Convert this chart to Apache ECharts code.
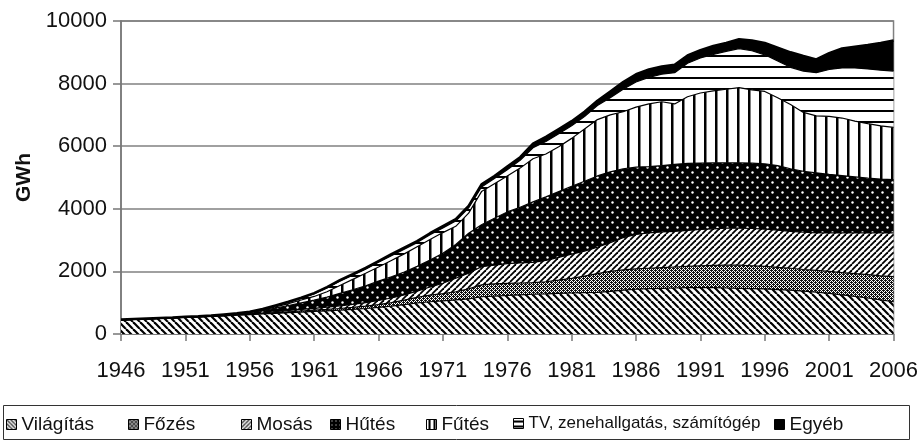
<!DOCTYPE html>
<html lang="hu">
<head>
<meta charset="UTF-8">
<title>Háztartási villamosenergia-felhasználás</title>
<script src="https://cdn.jsdelivr.net/npm/echarts@6/dist/echarts.min.js"></script>
<style>
  html, body { margin: 0; padding: 0; background: #fff; }
  #chart { width: 921px; height: 443px; }
</style>
</head>
<body>
<div id="chart"></div>
<script>
// years on the x axis
const years = ['1946','1947','1948','1949','1950','1951','1952','1953','1954','1955',
  '1956','1957','1958','1959','1960','1961','1962','1963','1964','1965',
  '1966','1967','1968','1969','1970','1971','1972','1973','1974','1975',
  '1976','1977','1978','1979','1980','1981','1982','1983','1984','1985',
  '1986','1987','1988','1989','1990','1991','1992','1993','1994','1995',
  '1996','1997','1998','1999','2000','2001','2002','2003','2004','2005','2006'];

// GWh per use
const vilagitas = [450,470,485,500,515,530,545,560,580,600,
  620,640,660,680,700,720,740,760,785,815,
  850,890,940,990,1030,1060,1090,1120,1190,1210,
  1230,1250,1270,1280,1300,1310,1320,1330,1360,1400,
  1430,1450,1460,1470,1480,1480,1480,1470,1460,1450,
  1440,1420,1400,1370,1340,1300,1250,1200,1150,1090,1030];
const fozes = [0,0,0,0,0,5,5,5,5,10,
  10,15,25,30,35,40,45,55,65,75,
  90,110,140,180,210,230,260,320,380,390,
  390,380,370,390,420,470,530,600,640,650,
  650,650,660,670,680,700,710,730,740,730,
  720,710,700,690,690,700,710,730,750,770,800];
const mosas = [0,0,0,0,0,0,0,5,5,5,
  10,20,30,40,50,60,75,85,95,110,
  130,150,170,200,260,330,430,500,580,600,
  630,640,650,680,730,770,800,840,920,1030,
  1100,1130,1140,1140,1150,1160,1170,1180,1180,1190,
  1190,1190,1180,1190,1200,1230,1270,1300,1330,1370,1400];
const hutes = [0,0,0,0,0,5,5,10,15,25,
  40,70,110,160,210,260,320,400,470,540,
  620,680,730,790,860,960,1080,1280,1340,1500,
  1650,1780,1930,2030,2100,2170,2230,2280,2260,2200,
  2150,2120,2120,2140,2140,2120,2110,2090,2090,2090,
  2090,2060,2000,1950,1920,1870,1830,1790,1750,1720,1700];
const futes = [0,0,0,0,0,0,0,0,5,5,
  10,20,40,60,90,120,170,250,330,400,
  450,520,580,630,660,660,580,640,1060,1100,
  1150,1250,1380,1370,1430,1530,1670,1800,1820,1820,
  1920,2000,2040,1930,2130,2240,2300,2350,2400,2340,
  2310,2170,2050,1880,1820,1850,1840,1780,1740,1700,1670];
const tv = [0,0,0,0,0,0,0,0,5,5,
  10,20,30,40,50,80,120,140,130,130,
  150,150,150,130,150,150,170,170,150,170,
  200,250,350,400,420,400,400,450,550,720,
  800,850,880,1000,1070,1120,1160,1210,1250,1250,
  1170,1170,1190,1320,1380,1500,1600,1700,1750,1780,1800];
const egyeb = [10,10,10,10,10,10,10,10,10,10,
  10,15,20,20,25,25,30,30,35,40,
  40,50,50,50,50,60,60,60,80,80,
  100,100,130,150,150,150,150,150,200,230,
  250,250,250,250,250,250,270,270,300,330,
  380,430,480,480,420,520,620,680,760,870,980];

const names = ['Világítás', 'Főzés', 'Mosás', 'Hűtés', 'Fűtés',
  'TV, zenehallgatás, számítógép', 'Egyéb'];

// black and white fill patterns
function tile(w, h, bg, draw) {
  const c = document.createElement('canvas');
  c.width = w; c.height = h;
  const ctx = c.getContext('2d');
  ctx.fillStyle = bg;
  ctx.fillRect(0, 0, w, h);
  draw(ctx, w, h);
  return { image: c, repeat: 'repeat' };
}
function diag(s, lw, down) {
  return tile(s, s, '#fff', (ctx) => {
    ctx.strokeStyle = '#000';
    ctx.lineWidth = lw;
    for (const k of [-s, 0, s]) {
      ctx.beginPath();
      if (down) { ctx.moveTo(k, 0); ctx.lineTo(k + s, s); }
      else { ctx.moveTo(k, s); ctx.lineTo(k + s, 0); }
      ctx.stroke();
    }
  });
}
const patterns = [
  diag(7, 2.2, true),
  tile(4, 4, '#fff', (ctx) => {
    ctx.fillStyle = '#111';
    ctx.fillRect(0, 0, 1, 1); ctx.fillRect(2, 0, 1, 1); ctx.fillRect(1, 1, 1, 1); ctx.fillRect(3, 1, 1, 1);
    ctx.fillRect(0, 2, 1, 1); ctx.fillRect(2, 2, 1, 1); ctx.fillRect(1, 3, 1, 1); ctx.fillRect(3, 3, 1, 1);
    ctx.fillRect(1, 0, 1, 1); ctx.fillRect(3, 2, 1, 1);
  }),
  diag(6, 1.8, false),
  tile(10, 10, '#000', (ctx) => {
    ctx.fillStyle = '#fff';
    ctx.beginPath(); ctx.arc(2.5, 2.5, 1.2, 0, Math.PI * 2); ctx.fill();
    ctx.beginPath(); ctx.arc(7.5, 7.5, 1.2, 0, Math.PI * 2); ctx.fill();
  }),
  tile(11, 11, '#fff', (ctx) => { ctx.fillStyle = '#000'; ctx.fillRect(0, 0, 2.5, 11); }),
  tile(11, 11, '#fff', (ctx) => { ctx.fillStyle = '#000'; ctx.fillRect(0, 0, 11, 2); }),
  '#000'
];
// small versions for the legend keys
const keyPatterns = [
  diag(4, 1.2, true),
  patterns[1],
  diag(4, 1.2, false),
  tile(4, 4, '#000', (ctx) => { ctx.fillStyle = '#fff'; ctx.fillRect(1, 1, 1, 1); }),
  tile(5, 5, '#fff', (ctx) => { ctx.fillStyle = '#000'; ctx.fillRect(2, 0, 2, 5); }),
  tile(5, 5, '#fff', (ctx) => { ctx.fillStyle = '#000'; ctx.fillRect(0, 2, 5, 2); }),
  '#000'
];
const values = [vilagitas, fozes, mosas, hutes, futes, tv, egyeb];

const chart = echarts.init(document.getElementById('chart'), null, { renderer: 'canvas' });

const series = names.map((name, i) => ({
  name: name,
  type: 'line',
  stack: 'total',
  data: values[i],
  showSymbol: false,
  symbol: 'none',
  lineStyle: { color: '#000', width: i === 6 ? 2.5 : 1.2 },
  itemStyle: { color: patterns[i], borderColor: '#000', borderWidth: 1 },
  areaStyle: { color: patterns[i], opacity: 1 },
  emphasis: { disabled: true }
}));

// one legend per item so each can sit where it does in the picture
const legendX = [6, 128, 241, 330, 426, 513, 774];
const legends = names.map((name, i) => ({
  data: [{ name: name, itemStyle: { color: keyPatterns[i], borderColor: '#000', borderWidth: 1 } }],
  left: legendX[i],
  top: 415,
  padding: 0,
  icon: 'rect',
  itemWidth: 10,
  itemHeight: 10,
  itemGap: 0,
  selectedMode: false,
  textStyle: { fontFamily: 'Liberation Sans', fontSize: i === 5 ? 17 : 19, color: '#111', padding: [0, 0, 0, 0] }
}));

chart.setOption({
  animation: false,
  backgroundColor: '#fff',
  grid: { left: 121, right: 27, top: 21, bottom: 109, show: true, borderColor: '#808080', borderWidth: 1.5 },
  legend: legends,
  xAxis: {
    type: 'category',
    data: years,
    boundaryGap: false,
    axisLine: { lineStyle: { color: '#777', width: 1.5 } },
    axisTick: { show: true, interval: 4, length: 7, lineStyle: { color: '#777', width: 1.5 } },
    axisLabel: { interval: 4, fontFamily: 'Liberation Sans', fontSize: 22, color: '#111', margin: 26 }
  },
  yAxis: {
    type: 'value',
    min: 0,
    max: 10000,
    interval: 2000,
    name: 'GWh',
    nameLocation: 'middle',
    nameGap: 86,
    nameTextStyle: { fontFamily: 'Liberation Sans', fontWeight: 'bold', fontSize: 21, color: '#111' },
    axisLine: { show: true, lineStyle: { color: '#777', width: 1.5 } },
    axisTick: { show: true, length: 8, lineStyle: { color: '#777', width: 1.5 } },
    axisLabel: { fontFamily: 'Liberation Sans', fontSize: 22, color: '#111', margin: 14, formatter: (v) => String(v) },
    splitLine: { lineStyle: { color: '#808080', width: 1.5 } }
  },
  graphic: [{
    type: 'rect',
    silent: true,
    shape: { x: 3.5, y: 405.5, width: 906, height: 34 },
    style: { fill: 'none', stroke: '#333', lineWidth: 1 }
  }],
  series: series
});
</script>
</body>
</html>
